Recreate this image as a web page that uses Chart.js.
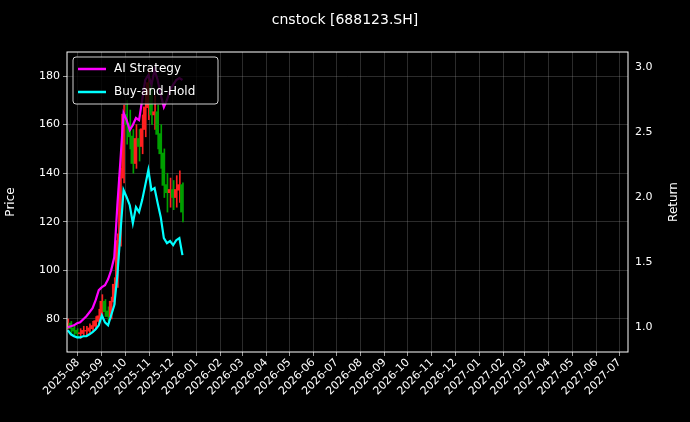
<!DOCTYPE html>
<html><head><meta charset="utf-8">
<script src="https://cdn.jsdelivr.net/npm/chart.js@4.4.0/dist/chart.umd.min.js"></script>
<style>html,body{margin:0;background:#000}#w{width:690px;height:422px}</style>
</head><body><div id="w"><canvas id="c"></canvas></div>
<script>
const dates = ['2025-07-19','2025-07-23','2025-07-27','2025-07-31','2025-08-04','2025-08-08','2025-08-12','2025-08-16','2025-08-20','2025-08-24','2025-08-28','2025-09-01','2025-09-05','2025-09-09','2025-09-13','2025-09-17','2025-09-21','2025-09-25','2025-09-29','2025-10-03','2025-10-07','2025-10-11','2025-10-15','2025-10-19','2025-10-23','2025-10-27','2025-10-31','2025-11-04','2025-11-08','2025-11-12','2025-11-16','2025-11-20','2025-11-24','2025-11-28','2025-12-02','2025-12-06','2025-12-10','2025-12-14'];
const aiStrategy = [1.0,1.008,1.015,1.031,1.038,1.062,1.085,1.115,1.146,1.208,1.285,1.308,1.323,1.369,1.438,1.538,1.938,2.285,2.646,2.592,2.515,2.554,2.608,2.592,2.746,2.9,2.938,2.862,2.977,2.9,2.785,2.692,2.746,2.823,2.862,2.9,2.915,2.9];
const buyHold = [0.977,0.946,0.931,0.923,0.923,0.931,0.931,0.946,0.962,0.985,1.015,1.092,1.038,1.015,1.092,1.169,1.4,1.731,2.054,2.0,1.938,1.8,1.923,1.885,1.977,2.092,2.208,2.054,2.069,1.954,1.846,1.685,1.646,1.662,1.631,1.669,1.685,1.554];
const open = [77,78,76,75,74,74,75,75,76,77,79,81,87,83,81,87,94,112,138,164,160,155,144,154,151,158,167,177,164,165,156,148,135,132,133,130,133,135];
const close = [78,76,75,74,74,75,75,76,77,79,81,87,83,81,87,94,112,138,164,160,155,144,154,151,158,167,177,164,165,156,148,135,132,133,130,133,135,124];
const high = [80,79,77,76,76,77,77,78,79,81,84,90,88,85,89,97,115,142,168,170,166,158,160,158,164,174,183,178,172,168,160,150,140,138,137,139,141,136];
const low = [76,74,73,72,72,73,73,74,75,76,78,80,81,79,80,86,93,110,136,152,150,140,142,145,148,155,162,160,158,150,142,130,124,126,125,126,128,120];
const monthLabels = ['2025-08','2025-09','2025-10','2025-11','2025-12','2026-01','2026-02','2026-03','2026-04','2026-05','2026-06','2026-07','2026-08','2026-09','2026-10','2026-11','2026-12','2027-01','2027-02','2027-03','2027-04','2027-05','2027-06','2027-07'];

const T0 = Date.parse('2025-07-19');
const day = s => (Date.parse(s) - T0) / 864e5;
const xs = dates.map(day);
const monthPos = monthLabels.map(m => day(m + '-01'));
const candleCol = open.map((o,i) => close[i] >= o ? '#ff2020' : '#00a000');
const grid = {color:'rgba(160,160,160,0.45)', borderDash:[3,3], lineWidth:0.6, drawTicks:true, tickColor:'#fff', tickLength:4, offset:false};

const bg = {id:'bg', beforeDraw(c){const x=c.ctx;x.save();x.fillStyle='#000';x.fillRect(0,0,c.width,c.height);x.restore();},
 afterDraw(c){const x=c.ctx, a=c.chartArea; x.save();
  x.strokeStyle='#fff'; x.lineWidth=1; x.strokeRect(a.left,a.top,a.right-a.left,a.bottom-a.top);
  x.fillStyle='#fff'; x.font='14px "DejaVu Sans"'; x.textAlign='center'; x.textBaseline='middle';
  x.fillText('cnstock [688123.SH]', 345, 20);
  x.font='12px "DejaVu Sans"';
  x.save(); x.translate(674,(a.top+a.bottom)/2); x.rotate(-Math.PI/2); x.fillText('Return',0,0); x.restore();
  // legend
  x.fillStyle='rgba(0,0,0,0.8)'; x.strokeStyle='rgba(230,230,230,0.9)';
  x.beginPath(); x.roundRect(73,57,145,47,3); x.fill(); x.stroke();
  x.lineWidth=2.5; x.strokeStyle='#ff00ff'; x.beginPath(); x.moveTo(78,69); x.lineTo(106,69); x.stroke();
  x.strokeStyle='#00ffff'; x.beginPath(); x.moveTo(78,92); x.lineTo(106,92); x.stroke();
  x.fillStyle='#fff'; x.textAlign='left';
  x.fillText('AI Strategy',114,69); x.fillText('Buy-and-Hold',114,92);
  x.restore();}};

new Chart(document.getElementById('c'), {
 data:{datasets:[
  {type:'line', data:xs.map((v,i)=>({x:v,y:aiStrategy[i]})), yAxisID:'y2', borderColor:'#ff00ff', borderWidth:2.2, pointRadius:0, order:1},
  {type:'line', data:xs.map((v,i)=>({x:v,y:buyHold[i]})), yAxisID:'y2', borderColor:'#00ffff', borderWidth:2.2, pointRadius:0, order:1},
  {type:'bar', data:xs.map((v,i)=>({x:v,y:[low[i],high[i]]})), yAxisID:'y', backgroundColor:candleCol, barThickness:1, order:3},
  {type:'bar', data:xs.map((v,i)=>({x:v,y:[Math.min(open[i],close[i]),Math.max(open[i],close[i])+0.3]})), yAxisID:'y', backgroundColor:candleCol, barThickness:2, order:2}
 ]},
 options:{responsive:true, maintainAspectRatio:false, animation:false,
  layout:{padding:{top:52,right:0,left:0,bottom:0}},
  plugins:{legend:{display:false}, tooltip:{enabled:false}},
  scales:{
   x:{type:'linear', offset:false, min:-1, max:723, grid, border:{display:false},
    afterBuildTicks(s){s.ticks = monthPos.map(v=>({value:v}));},
    afterFit(s){s.height=70;},
    ticks:{color:'#fff', font:{size:11,family:'DejaVu Sans'}, minRotation:45, maxRotation:45, autoSkip:false, padding:0,
     callback:(v,i)=>monthLabels[i]}},
   y:{position:'left', min:66.4, max:189.9, grid, border:{display:false},
    afterBuildTicks(s){s.ticks=[80,100,120,140,160,180].map(v=>({value:v}));},
    afterFit(s){s.width=67;},
    title:{display:true,text:'Price',color:'#fff',font:{size:12,family:'DejaVu Sans'}},
    ticks:{color:'#fff', font:{size:11,family:'DejaVu Sans'}}},
   y2:{position:'right', min:0.81, max:3.115, grid:{display:false,tickColor:'#fff',tickLength:4}, border:{display:false},
    afterBuildTicks(s){s.ticks=[1,1.5,2,2.5,3].map(v=>({value:v}));},
    afterFit(s){s.width=62;},
    title:{display:false},
    ticks:{color:'#fff', font:{size:11,family:'DejaVu Sans'}, callback:v=>v.toFixed(1)}}
  }}, plugins:[bg]});
</script></body></html>
